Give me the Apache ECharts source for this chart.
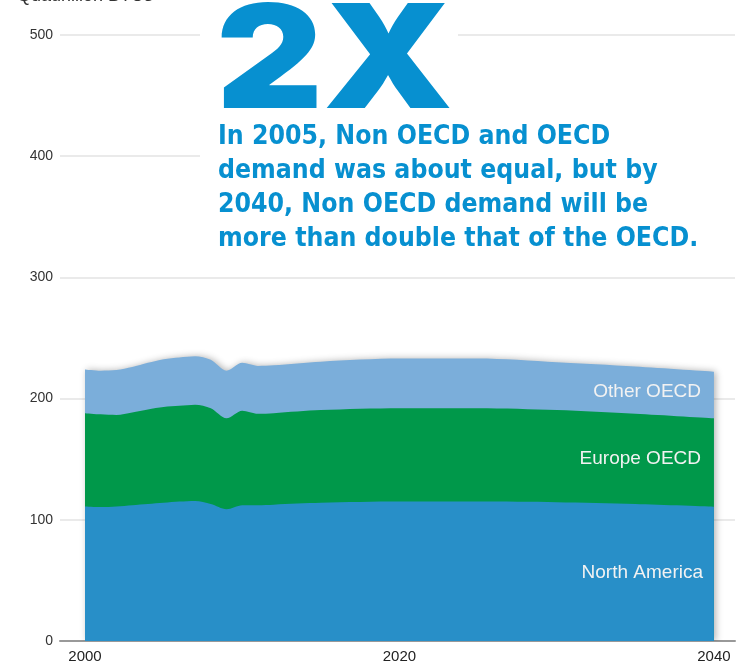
<!DOCTYPE html>
<html lang="en">
<head>
  <meta charset="UTF-8">
  <title>OECD energy demand</title>
  <script src="https://cdn.jsdelivr.net/npm/echarts@6.0.0/dist/echarts.min.js"></script>
  <style>
    html, body, #main {
      margin: 0;
      padding: 0;
      width: 739px;
      height: 668px;
      background: #fff;
    }
  </style>
</head>
<body>
  <div id="main"></div>

  <script>
    // years and values (quadrillion BTUs)
    const years = [2000, 2001, 2002, 2003, 2004, 2005, 2006, 2007, 2008, 2009, 2010, 2011, 2012, 2015, 2020, 2025, 2030, 2035, 2040];
    const northAmerica = [111, 110.5, 111, 112, 113, 114, 115, 115.5, 113, 108.7, 112, 112, 112.5, 114, 115, 115, 114.5, 113, 110.8];
    const europeOECD = [77, 76.5, 75.5, 76.5, 78, 79, 79, 79.5, 79, 75, 78, 75.5, 75.5, 76.5, 77, 77, 76, 74.5, 72.9];
    const otherOECD = [36, 36, 37, 37.5, 38.5, 39.5, 40, 40, 40, 39.3, 39.5, 39.5, 39.5, 40, 41, 41, 39.5, 39, 38.5];
    const xLabels = [2000, 2020, 2040];

    const colors = {
      na: "#288FC8",
      eu: "#00984A",
      other: "#7BAEDA"
    };

    // running totals so each band sits on the one below it
    const naTop = northAmerica.slice();
    const euTop = naTop.map((v, i) => v + europeOECD[i]);
    const otherTop = euTop.map((v, i) => v + otherOECD[i]);

    const toPairs = arr => years.map((y, i) => [y, arr[i]]);

    // drawn back to front: total first, then each lower band over it
    const makeSeries = (name, arr, color, z, shadow) => ({
      name: name,
      type: 'line',
      z: z,
      smooth: 0.3,
      symbol: 'none',
      lineStyle: { width: 0 },
      areaStyle: Object.assign({ color: color, opacity: 1 }, shadow ? {
        shadowColor: 'rgba(0,0,0,0.3)',
        shadowBlur: 7,
        shadowOffsetX: 2
      } : {}),
      itemStyle: { color: color },
      data: toPairs(arr)
    });

    const chart = echarts.init(document.getElementById('main'));
    const blue = "#0790D0";
    const labelFont = '19px "Liberation Sans"';

    const option = {
      animation: false,
      grid: { left: 60, right: 4, top: 35, bottom: 27 },
      xAxis: {
        type: 'value',
        min: 1998.41,
        max: 2041.34,
        axisLine: { lineStyle: { color: '#999', width: 2 } },
        axisTick: { show: false },
        splitLine: { show: false },
        axisLabel: {
          customValues: xLabels,
          formatter: v => String(v),
          color: '#222',
          fontSize: 15,
          fontFamily: 'Liberation Sans',
          margin: 8
        }
      },
      yAxis: {
        type: 'value',
        min: 0,
        max: 500,
        interval: 100,
        axisLine: { show: false },
        axisTick: { show: false },
        splitLine: { lineStyle: { color: '#e3e3e3', width: 1.5 } },
        axisLabel: {
          color: '#333',
          fontSize: 14,
          fontFamily: 'Liberation Sans',
          margin: 7
        }
      },
      series: [
        makeSeries('Other OECD', otherTop, colors.other, 2, true),
        makeSeries('Europe OECD', euTop, colors.eu, 3, false),
        makeSeries('North America', naTop, colors.na, 4, false)
      ],
      graphic: [
        {
          type: 'text', left: 17, top: -13, z: 100,
          style: { text: 'Quadrillion BTUs', fill: '#333', font: '18px "Liberation Sans"' }
        },
        { type: 'rect', z: 100, shape: { x: 200, y: 0, width: 258, height: 118 }, style: { fill: '#fff' } },
        { type: 'rect', z: 100, shape: { x: 200, y: 118, width: 539, height: 145 }, style: { fill: '#fff' } },
        {
          type: 'text', x: 216, y: -7, scaleX: 1.15, z: 101,
          style: { text: '2X', fill: blue, font: '900 144px Inter' }
        },
        {
          type: 'text', x: 218, y: 120, scaleX: 1.015, z: 101,
          style: {
            text: 'In 2005, Non OECD and OECD\ndemand was about equal, but by\n2040, Non OECD demand will be\nmore than double that of the OECD.',
            fill: blue,
            font: 'bold 26px "DejaVu Sans Condensed", "DejaVu Sans"',
            lineHeight: 34
          }
        },
        {
          type: 'text', x: 701, y: 392, z: 100,
          style: { text: 'Other OECD', fill: '#f2f2f2', font: labelFont, align: 'right', verticalAlign: 'middle' }
        },
        {
          type: 'text', x: 701, y: 459, z: 100,
          style: { text: 'Europe OECD', fill: '#f2f2f2', font: labelFont, align: 'right', verticalAlign: 'middle' }
        },
        {
          type: 'text', x: 703, y: 573, z: 100,
          style: { text: 'North America', fill: '#f2f2f2', font: labelFont, align: 'right', verticalAlign: 'middle' }
        }
      ]
    };

    chart.setOption(option);
  </script>
</body>
</html>
